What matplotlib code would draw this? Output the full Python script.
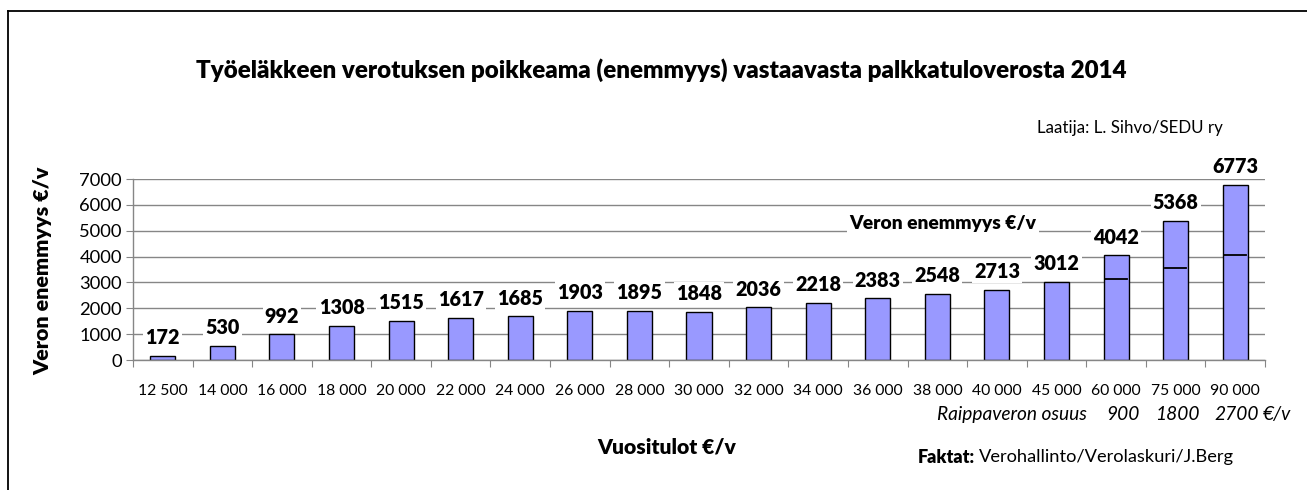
import matplotlib as mpl
import matplotlib.pyplot as plt
from matplotlib.lines import Line2D
import numpy as np

mpl.rcParams.update({
    "font.family": ["Lato", "DejaVu Sans"],
    "axes.linewidth": 1.0,
})

# data
incomes = ["12 500", "14 000", "16 000", "18 000", "20 000", "22 000", "24 000",
           "26 000", "28 000", "30 000", "32 000", "34 000", "36 000", "38 000",
           "40 000", "45 000", "60 000", "75 000", "90 000"]
extra_tax = [172, 530, 992, 1308, 1515, 1617, 1685, 1903, 1895, 1848, 2036,
             2218, 2383, 2548, 2713, 3012, 4042, 5368, 6773]
# "raippavero" share for the highest incomes
whip_idx = [16, 17, 18]
whip_tax = [900, 1800, 2700]

W, H = 1307, 490
GRID = "#868686"
BOLD = "heavy"


def px(x, y):
    return x / W, 1 - y / H


def fit(texts, target, renderer, vertical=False):
    """scale font size of texts so that texts[0] spans target pixels"""
    bb = texts[0].get_window_extent(renderer)
    cur = bb.height if vertical else bb.width
    k = target / cur
    for t in texts:
        t.set_fontsize(t.get_fontsize() * k)


fig = plt.figure(figsize=(W / 100, H / 100), dpi=100)
fig.add_artist(Line2D([8 / W, 8 / W], [0, 1 - 11 / H], color="black", lw=1.3))
fig.add_artist(Line2D([8 / W, 1], [1 - 11 / H, 1 - 11 / H], color="black", lw=1.3))

l, r, b, t = 133, 1265, 360, 179
ax = fig.add_axes([l / W, 1 - b / H, (r - l) / W, (b - t) / H])

x = np.arange(len(incomes))
ax.bar(x, extra_tax, width=0.42, color="#9999FF", edgecolor="black", linewidth=1.0, zorder=2)

for i, tax in zip(whip_idx, whip_tax):
    ax.plot([i - 0.18, i + 0.18], [extra_tax[i] - tax] * 2, color="black", lw=1.3, zorder=3)

bar_labels = []
for xi, v in zip(x, extra_tax):
    a = ax.annotate(str(v), (xi, v), xytext=(0, 8.5), textcoords="offset points",
                    ha="center", va="baseline", fontsize=14, fontweight=BOLD, zorder=4,
                    bbox=dict(facecolor="white", edgecolor="none", pad=1.5))
    bar_labels.append(a)

ax.set_xlim(-0.5, len(incomes) - 0.5)
ax.set_ylim(0, 7000)
ax.set_yticks(np.arange(0, 7001, 1000))
ax.tick_params(axis="y", labelsize=14, length=5, color=GRID, pad=3)
ax.yaxis.grid(True, color=GRID, lw=1.0)
ax.set_axisbelow(True)

ax.set_xticks(np.arange(-0.5, len(incomes), 1.0))
ax.set_xticklabels([])
ax.set_xticks(x, minor=True)
ax.set_xticklabels(incomes, minor=True)
ax.tick_params(axis="x", which="major", length=5, color=GRID)
ax.tick_params(axis="x", which="minor", length=0, labelsize=11.5, pad=17)

for s in ("top", "right"):
    ax.spines[s].set_visible(False)
for s in ("left", "bottom"):
    ax.spines[s].set_color(GRID)

inner = ax.text(*px(943, 223), "Veron enemmyys €/v", transform=fig.transFigure, ha="center",
                va="center", fontsize=14, fontweight=BOLD, zorder=4,
                bbox=dict(facecolor="white", edgecolor="none", pad=1.5))

title = fig.text(*px(661, 70), "Työeläkkeen verotuksen poikkeama (enemmyys) vastaavasta palkkatuloverosta 2014",
                 ha="center", va="center", fontsize=17, fontweight=BOLD)
author = fig.text(*px(1130, 128), "Laatija: L. Sihvo/SEDU ry", ha="center", va="center", fontsize=12)
ylab = fig.text(*px(43, 271), "Veron enemmyys €/v", rotation=90, ha="center", va="center",
                fontsize=15.5, fontweight=BOLD)
xlab = fig.text(*px(667, 447), "Vuositulot €/v", ha="center", va="center", fontsize=15.5,
                fontweight=BOLD)

whip_head = fig.text(*px(1012, 414), "Raippaveron osuus", ha="center", va="center",
                     fontsize=13.5, style="italic")
whip_texts = []
for i, tax in zip(whip_idx, whip_tax):
    wt = ax.annotate(str(tax), (i, 1 - 414 / H), xycoords=("data", "figure fraction"),
                     xytext=(17, 0), textcoords="offset points", ha="right", va="center",
                     fontsize=13.5, style="italic")
    whip_texts.append(wt)
unit = ax.annotate("€/v", xy=(1, 0.5), xycoords=whip_texts[-1], xytext=(3, 0),
                   textcoords="offset points", ha="left", va="center", fontsize=13.5,
                   style="italic")

fk = fig.text(*px(918, 457), "Faktat:", ha="left", va="center", fontsize=13, fontweight=BOLD)
src = ax.annotate("Verohallinto/Verolaskuri/J.Berg", xy=(1, 0.5), xycoords=fk, xytext=(2.5, 0),
                  textcoords="offset points", ha="left", va="center", fontsize=13)

# match text widths measured on the reference
fig.canvas.draw()
rend = fig.canvas.get_renderer()
fit([title], 928, rend)
fit([author], 185, rend)
fit([ylab], 208, rend, vertical=True)
fit([xlab], 139, rend)
fit([inner], 187, rend)
fit([whip_head] + whip_texts + [unit], 150, rend)
fit([src], 255, rend)
fit([fk], 57, rend)
fit([bar_labels[3]] + bar_labels[:3] + bar_labels[4:], 46, rend)
ax.tick_params(axis="y", labelsize=14 * 43 / ax.get_yticklabels()[-1].get_window_extent(rend).width)
ax.tick_params(axis="x", which="minor",
               labelsize=11.5 * 50 / ax.get_xticklabels(minor=True)[0].get_window_extent(rend).width)

fig.savefig("out.png", dpi=100)
